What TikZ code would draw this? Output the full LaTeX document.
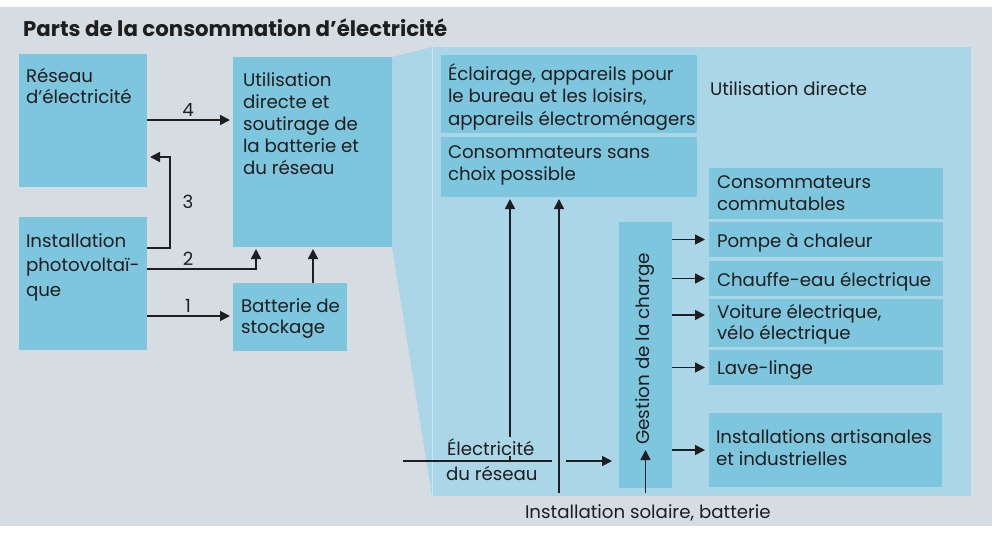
\documentclass[tikz,border=0pt]{standalone}
\usepackage{fontspec}
\setmainfont{Poppins}
\usetikzlibrary{arrows.meta,calc}
\definecolor{bggrey}{RGB}{213,221,226}
\definecolor{boxblue}{RGB}{126,197,222}
\definecolor{panelblue}{RGB}{170,214,232}
\definecolor{ink}{RGB}{30,30,30}
\tikzset{
  box/.style={fill=boxblue, draw=none, inner sep=0pt, outer sep=0pt, anchor=north west},
  txt/.style={anchor=base west, inner sep=0pt, outer sep=0pt, text=ink, align=left, font=\fontsize{18.2}{22}\selectfont},
  lbl/.style={anchor=base, inner sep=0pt, text=ink, font=\fontsize{18.2}{22}\selectfont},
  arr/.style={draw=ink, line width=1.6pt, -{Triangle[length=10pt,width=10pt]}},
  ln/.style={draw=ink, line width=1.6pt}
}
\begin{document}
\begin{tikzpicture}[x=1pt,y=-1pt]
\useasboundingbox (0,0) rectangle (992,536);
\fill[white] (0,0) rectangle (992,536);
\fill[bggrey] (0,7) rectangle (992,526);
% title
\node[anchor=base west, inner sep=0pt, text=ink, font=\bfseries\fontsize{21.3}{24}\selectfont] (title) at (23,36) {Parts de la consommation d’électricité};
% funnel and panel
\fill[panelblue] (392,57) -- (432,47) -- (432,496) -- (392,247) -- cycle;
\node[box, fill=panelblue, minimum width=539pt, minimum height=449pt] (panel) at (432,47) {};
\draw[white!40!panelblue, line width=0.8pt] (panel.north west) -- (panel.south west);
% left boxes
\node[box, minimum width=128pt, minimum height=133pt] (reseau) at (19,54) {};
\node[box, minimum width=128pt, minimum height=133pt] (pv) at (19,217) {};
\node[box, minimum width=159pt, minimum height=190pt] (util) at (233,57) {};
\node[box, minimum width=114pt, minimum height=68pt] (batt) at (233,283) {};
% right boxes
\node[box, minimum width=256pt, minimum height=78pt] (ecl) at (441,55) {};
\node[box, minimum width=256pt, minimum height=60pt] (sans) at (441,137) {};
\node[box, minimum width=234pt, minimum height=51pt] (comm) at (709,168) {};
\node[box, minimum width=234pt, minimum height=35pt] (pompe) at (709,222) {};
\node[box, minimum width=234pt, minimum height=35pt] (chauffe) at (709,261) {};
\node[box, minimum width=234pt, minimum height=48pt] (voiture) at (709,299) {};
\node[box, minimum width=234pt, minimum height=35pt] (lave) at (709,350) {};
\node[box, minimum width=233pt, minimum height=74pt] (instal) at (709,413) {};
\node[box, minimum width=53pt, minimum height=266pt] (gestion) at (619,222) {};
% texts (anchor = baseline of the last line)
\node[txt, font=\fontsize{18.2}{21.6}\selectfont] (treseau) at (26,103.6) {Réseau\\d’électricité};
\node[txt, font=\fontsize{18.2}{24.5}\selectfont] (tpv) at (26,296) {Installation\\photovoltaï-\\que};
\node[txt] (tutil) at (243,174) {Utilisation\\directe et\\soutirage de\\la batterie et\\du réseau};
\node[txt, font=\fontsize{18.2}{21.7}\selectfont] (tbatt) at (241,333.7) {Batterie de\\stockage};
\node[txt, font=\fontsize{18.2}{22.5}\selectfont] (tecl) at (448,125) {Éclairage, appareils pour\\le bureau et les loisirs,\\appareils électroménagers};
\node[txt] (tsans) at (448,180) {Consommateurs sans\\choix possible};
\node[txt] (tdirect) at (710,95) {Utilisation directe};
\node[txt] (tcomm) at (717,210) {Consommateurs\\commutables};
\node[txt] (tpompe) at (717,247) {Pompe à chaleur};
\node[txt] (tchauffe) at (717,286) {Chauffe-eau électrique};
\node[txt, font=\fontsize{18.2}{21}\selectfont] (tvoiture) at (717,339) {Voiture électrique,\\vélo électrique};
\node[txt] (tlave) at (717,374) {Lave-linge};
\node[txt] (tinstal) at (716,465) {Installations artisanales\\et industrielles};
\node[anchor=center, rotate=90, inner sep=0pt, text=ink, font=\fontsize{18.4}{22}\selectfont] (tgestion) at (645,349) {Gestion de la charge};
% left connectors
\coordinate (c3) at (170,157);
\draw[arr, shorten >=3pt] (reseau.east |- 0,120) -- (util.west |- 0,120);
\draw[arr, shorten >=3pt] (pv.east |- 0,248) -| (c3) -- (reseau.east |- c3);
\draw[arr, shorten >=2pt] (pv.east |- 0,269) -| (util.south -| 256,0);
\draw[arr, shorten >=2pt] (batt.north -| 313,0) -- (util.south -| 313,0);
\draw[arr, shorten >=3pt] (pv.east |- 0,316) -- (batt.west |- 0,316);
\node[lbl] (l4) at (188,116) {4};
\node[lbl] (l3) at (188,208) {3};
\node[lbl] (l2) at (188,265) {2};
\node[lbl] (l1) at (188,312) {1};
% right connectors
\coordinate (gridin) at (403,461);
\coordinate (gridend) at (552,461);
\coordinate (solar) at (559,493);
\draw[ln] (gridin) -- (gridend);
\draw[arr, shorten >=2pt] (510,461) -- (sans.south -| 510,0);
\draw[arr, shorten >=2pt] (solar) -- (sans.south -| solar);
\draw[arr, shorten >=7pt] (566,461) -- (gestion.west |- 0,461);
\draw[arr] (gestion.south |- 0,493) -- ([yshift=38pt]gestion.south);
\node[txt, fill=panelblue, inner sep=1pt] (telec) at (446,455) {Électricité};
\node[txt] (treseau2) at (446,480) {du réseau};
\node[txt] (tsolar) at (525,518) {Installation solaire, batterie};
\draw[arr, shorten >=4pt] (gestion.east |- pompe) -- (pompe.west);
\draw[arr, shorten >=4pt] (gestion.east |- chauffe) -- (chauffe.west);
\draw[arr, shorten >=4pt] (gestion.east |- 0,315) -- (voiture.west |- 0,315);
\draw[arr, shorten >=4pt] (gestion.east |- lave) -- (lave.west);
\draw[arr, shorten >=4pt] (gestion.east |- instal) -- (instal.west);
\end{tikzpicture}
\end{document}
